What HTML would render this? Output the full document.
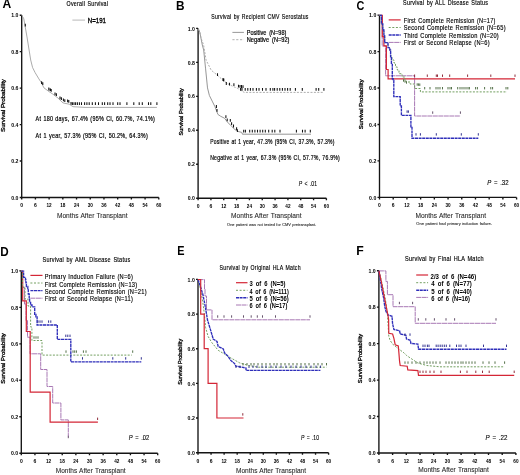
<!DOCTYPE html>
<html><head><meta charset="utf-8"><style>
html,body{margin:0;padding:0;background:#fff;width:520px;height:475px;overflow:hidden}
svg{display:block;filter:blur(0.3px)}
text{font-family:"Liberation Sans",sans-serif}
</style></head><body>
<svg width="520" height="475" viewBox="0 0 520 475" font-family="Liberation Sans, sans-serif">
<rect width="520" height="475" fill="#fff"/>
<path d="M21.7,15.2V197.5H158.8M19.7,197.5H21.7M19.7,161.04H21.7M19.7,124.58H21.7M19.7,88.12H21.7M19.7,51.66H21.7M19.7,15.2H21.7M21.7,197.5V199.5M35.41,197.5V199.5M49.12,197.5V199.5M62.83,197.5V199.5M76.54,197.5V199.5M90.25,197.5V199.5M103.96,197.5V199.5M117.67,197.5V199.5M131.38,197.5V199.5M145.09,197.5V199.5M158.8,197.5V199.5" stroke="#141414" stroke-width="1.35" fill="none"/>
<text x="11.3" y="199.65" font-size="5.9" textLength="7.2" lengthAdjust="spacingAndGlyphs" fill="#000" font-weight="bold" font-style="normal" >0.0</text>
<text x="11.3" y="163.19" font-size="5.9" textLength="7.2" lengthAdjust="spacingAndGlyphs" fill="#000" font-weight="bold" font-style="normal" >0.2</text>
<text x="11.3" y="126.73" font-size="5.9" textLength="7.2" lengthAdjust="spacingAndGlyphs" fill="#000" font-weight="bold" font-style="normal" >0.4</text>
<text x="11.3" y="90.27" font-size="5.9" textLength="7.2" lengthAdjust="spacingAndGlyphs" fill="#000" font-weight="bold" font-style="normal" >0.6</text>
<text x="11.3" y="53.81" font-size="5.9" textLength="7.2" lengthAdjust="spacingAndGlyphs" fill="#000" font-weight="bold" font-style="normal" >0.8</text>
<text x="11.3" y="17.35" font-size="5.9" textLength="7.2" lengthAdjust="spacingAndGlyphs" fill="#000" font-weight="bold" font-style="normal" >1.0</text>
<text x="20.3" y="207.4" font-size="6.0" textLength="2.8" lengthAdjust="spacingAndGlyphs" fill="#000" font-weight="bold" font-style="normal" >0</text>
<text x="34.01" y="207.4" font-size="6.0" textLength="2.8" lengthAdjust="spacingAndGlyphs" fill="#000" font-weight="bold" font-style="normal" >6</text>
<text x="46.52" y="207.4" font-size="6.0" textLength="5.2" lengthAdjust="spacingAndGlyphs" fill="#000" font-weight="bold" font-style="normal" >12</text>
<text x="60.23" y="207.4" font-size="6.0" textLength="5.2" lengthAdjust="spacingAndGlyphs" fill="#000" font-weight="bold" font-style="normal" >18</text>
<text x="73.94" y="207.4" font-size="6.0" textLength="5.2" lengthAdjust="spacingAndGlyphs" fill="#000" font-weight="bold" font-style="normal" >24</text>
<text x="87.65" y="207.4" font-size="6.0" textLength="5.2" lengthAdjust="spacingAndGlyphs" fill="#000" font-weight="bold" font-style="normal" >30</text>
<text x="101.36" y="207.4" font-size="6.0" textLength="5.2" lengthAdjust="spacingAndGlyphs" fill="#000" font-weight="bold" font-style="normal" >36</text>
<text x="115.07" y="207.4" font-size="6.0" textLength="5.2" lengthAdjust="spacingAndGlyphs" fill="#000" font-weight="bold" font-style="normal" >42</text>
<text x="128.78" y="207.4" font-size="6.0" textLength="5.2" lengthAdjust="spacingAndGlyphs" fill="#000" font-weight="bold" font-style="normal" >48</text>
<text x="142.49" y="207.4" font-size="6.0" textLength="5.2" lengthAdjust="spacingAndGlyphs" fill="#000" font-weight="bold" font-style="normal" >54</text>
<text x="156.2" y="207.4" font-size="6.0" textLength="5.2" lengthAdjust="spacingAndGlyphs" fill="#000" font-weight="bold" font-style="normal" >60</text>
<path d="M198.1,28.4V198.2H326.4M196.1,198.2H198.1M196.1,164.24H198.1M196.1,130.28H198.1M196.1,96.32H198.1M196.1,62.36H198.1M196.1,28.4H198.1M198.1,198.2V200.2M210.93,198.2V200.2M223.76,198.2V200.2M236.59,198.2V200.2M249.42,198.2V200.2M262.25,198.2V200.2M275.08,198.2V200.2M287.91,198.2V200.2M300.74,198.2V200.2M313.57,198.2V200.2M326.4,198.2V200.2" stroke="#141414" stroke-width="1.35" fill="none"/>
<text x="187.7" y="200.35" font-size="5.9" textLength="7.2" lengthAdjust="spacingAndGlyphs" fill="#000" font-weight="bold" font-style="normal" >0.0</text>
<text x="187.7" y="166.39" font-size="5.9" textLength="7.2" lengthAdjust="spacingAndGlyphs" fill="#000" font-weight="bold" font-style="normal" >0.2</text>
<text x="187.7" y="132.43" font-size="5.9" textLength="7.2" lengthAdjust="spacingAndGlyphs" fill="#000" font-weight="bold" font-style="normal" >0.4</text>
<text x="187.7" y="98.47" font-size="5.9" textLength="7.2" lengthAdjust="spacingAndGlyphs" fill="#000" font-weight="bold" font-style="normal" >0.6</text>
<text x="187.7" y="64.51" font-size="5.9" textLength="7.2" lengthAdjust="spacingAndGlyphs" fill="#000" font-weight="bold" font-style="normal" >0.8</text>
<text x="187.7" y="30.55" font-size="5.9" textLength="7.2" lengthAdjust="spacingAndGlyphs" fill="#000" font-weight="bold" font-style="normal" >1.0</text>
<text x="196.7" y="208.1" font-size="6.0" textLength="2.8" lengthAdjust="spacingAndGlyphs" fill="#000" font-weight="bold" font-style="normal" >0</text>
<text x="209.53" y="208.1" font-size="6.0" textLength="2.8" lengthAdjust="spacingAndGlyphs" fill="#000" font-weight="bold" font-style="normal" >6</text>
<text x="221.16" y="208.1" font-size="6.0" textLength="5.2" lengthAdjust="spacingAndGlyphs" fill="#000" font-weight="bold" font-style="normal" >12</text>
<text x="233.99" y="208.1" font-size="6.0" textLength="5.2" lengthAdjust="spacingAndGlyphs" fill="#000" font-weight="bold" font-style="normal" >18</text>
<text x="246.82" y="208.1" font-size="6.0" textLength="5.2" lengthAdjust="spacingAndGlyphs" fill="#000" font-weight="bold" font-style="normal" >24</text>
<text x="259.65" y="208.1" font-size="6.0" textLength="5.2" lengthAdjust="spacingAndGlyphs" fill="#000" font-weight="bold" font-style="normal" >30</text>
<text x="272.48" y="208.1" font-size="6.0" textLength="5.2" lengthAdjust="spacingAndGlyphs" fill="#000" font-weight="bold" font-style="normal" >36</text>
<text x="285.31" y="208.1" font-size="6.0" textLength="5.2" lengthAdjust="spacingAndGlyphs" fill="#000" font-weight="bold" font-style="normal" >42</text>
<text x="298.14" y="208.1" font-size="6.0" textLength="5.2" lengthAdjust="spacingAndGlyphs" fill="#000" font-weight="bold" font-style="normal" >48</text>
<text x="310.97" y="208.1" font-size="6.0" textLength="5.2" lengthAdjust="spacingAndGlyphs" fill="#000" font-weight="bold" font-style="normal" >54</text>
<text x="323.8" y="208.1" font-size="6.0" textLength="5.2" lengthAdjust="spacingAndGlyphs" fill="#000" font-weight="bold" font-style="normal" >60</text>
<path d="M379.5,15.1V197.4H516.6M377.5,197.4H379.5M377.5,160.94H379.5M377.5,124.48H379.5M377.5,88.02H379.5M377.5,51.56H379.5M377.5,15.1H379.5M379.5,197.4V199.4M393.21,197.4V199.4M406.92,197.4V199.4M420.63,197.4V199.4M434.34,197.4V199.4M448.05,197.4V199.4M461.76,197.4V199.4M475.47,197.4V199.4M489.18,197.4V199.4M502.89,197.4V199.4M516.6,197.4V199.4" stroke="#141414" stroke-width="1.35" fill="none"/>
<text x="369.1" y="199.55" font-size="5.9" textLength="7.2" lengthAdjust="spacingAndGlyphs" fill="#000" font-weight="bold" font-style="normal" >0.0</text>
<text x="369.1" y="163.09" font-size="5.9" textLength="7.2" lengthAdjust="spacingAndGlyphs" fill="#000" font-weight="bold" font-style="normal" >0.2</text>
<text x="369.1" y="126.63" font-size="5.9" textLength="7.2" lengthAdjust="spacingAndGlyphs" fill="#000" font-weight="bold" font-style="normal" >0.4</text>
<text x="369.1" y="90.17" font-size="5.9" textLength="7.2" lengthAdjust="spacingAndGlyphs" fill="#000" font-weight="bold" font-style="normal" >0.6</text>
<text x="369.1" y="53.71" font-size="5.9" textLength="7.2" lengthAdjust="spacingAndGlyphs" fill="#000" font-weight="bold" font-style="normal" >0.8</text>
<text x="369.1" y="17.25" font-size="5.9" textLength="7.2" lengthAdjust="spacingAndGlyphs" fill="#000" font-weight="bold" font-style="normal" >1.0</text>
<text x="378.1" y="207.3" font-size="6.0" textLength="2.8" lengthAdjust="spacingAndGlyphs" fill="#000" font-weight="bold" font-style="normal" >0</text>
<text x="391.81" y="207.3" font-size="6.0" textLength="2.8" lengthAdjust="spacingAndGlyphs" fill="#000" font-weight="bold" font-style="normal" >6</text>
<text x="404.32" y="207.3" font-size="6.0" textLength="5.2" lengthAdjust="spacingAndGlyphs" fill="#000" font-weight="bold" font-style="normal" >12</text>
<text x="418.03" y="207.3" font-size="6.0" textLength="5.2" lengthAdjust="spacingAndGlyphs" fill="#000" font-weight="bold" font-style="normal" >18</text>
<text x="431.74" y="207.3" font-size="6.0" textLength="5.2" lengthAdjust="spacingAndGlyphs" fill="#000" font-weight="bold" font-style="normal" >24</text>
<text x="445.45" y="207.3" font-size="6.0" textLength="5.2" lengthAdjust="spacingAndGlyphs" fill="#000" font-weight="bold" font-style="normal" >30</text>
<text x="459.16" y="207.3" font-size="6.0" textLength="5.2" lengthAdjust="spacingAndGlyphs" fill="#000" font-weight="bold" font-style="normal" >36</text>
<text x="472.87" y="207.3" font-size="6.0" textLength="5.2" lengthAdjust="spacingAndGlyphs" fill="#000" font-weight="bold" font-style="normal" >42</text>
<text x="486.58" y="207.3" font-size="6.0" textLength="5.2" lengthAdjust="spacingAndGlyphs" fill="#000" font-weight="bold" font-style="normal" >48</text>
<text x="500.29" y="207.3" font-size="6.0" textLength="5.2" lengthAdjust="spacingAndGlyphs" fill="#000" font-weight="bold" font-style="normal" >54</text>
<text x="514" y="207.3" font-size="6.0" textLength="5.2" lengthAdjust="spacingAndGlyphs" fill="#000" font-weight="bold" font-style="normal" >60</text>
<path d="M21.3,270.9V453.2H157.7M19.3,453.2H21.3M19.3,416.74H21.3M19.3,380.28H21.3M19.3,343.82H21.3M19.3,307.36H21.3M19.3,270.9H21.3M21.3,453.2V455.2M34.94,453.2V455.2M48.58,453.2V455.2M62.22,453.2V455.2M75.86,453.2V455.2M89.5,453.2V455.2M103.14,453.2V455.2M116.78,453.2V455.2M130.42,453.2V455.2M144.06,453.2V455.2M157.7,453.2V455.2" stroke="#141414" stroke-width="1.35" fill="none"/>
<text x="10.9" y="455.35" font-size="5.9" textLength="7.2" lengthAdjust="spacingAndGlyphs" fill="#000" font-weight="bold" font-style="normal" >0.0</text>
<text x="10.9" y="418.89" font-size="5.9" textLength="7.2" lengthAdjust="spacingAndGlyphs" fill="#000" font-weight="bold" font-style="normal" >0.2</text>
<text x="10.9" y="382.43" font-size="5.9" textLength="7.2" lengthAdjust="spacingAndGlyphs" fill="#000" font-weight="bold" font-style="normal" >0.4</text>
<text x="10.9" y="345.97" font-size="5.9" textLength="7.2" lengthAdjust="spacingAndGlyphs" fill="#000" font-weight="bold" font-style="normal" >0.6</text>
<text x="10.9" y="309.51" font-size="5.9" textLength="7.2" lengthAdjust="spacingAndGlyphs" fill="#000" font-weight="bold" font-style="normal" >0.8</text>
<text x="10.9" y="273.05" font-size="5.9" textLength="7.2" lengthAdjust="spacingAndGlyphs" fill="#000" font-weight="bold" font-style="normal" >1.0</text>
<text x="19.9" y="463.1" font-size="6.0" textLength="2.8" lengthAdjust="spacingAndGlyphs" fill="#000" font-weight="bold" font-style="normal" >0</text>
<text x="33.54" y="463.1" font-size="6.0" textLength="2.8" lengthAdjust="spacingAndGlyphs" fill="#000" font-weight="bold" font-style="normal" >6</text>
<text x="45.98" y="463.1" font-size="6.0" textLength="5.2" lengthAdjust="spacingAndGlyphs" fill="#000" font-weight="bold" font-style="normal" >12</text>
<text x="59.62" y="463.1" font-size="6.0" textLength="5.2" lengthAdjust="spacingAndGlyphs" fill="#000" font-weight="bold" font-style="normal" >18</text>
<text x="73.26" y="463.1" font-size="6.0" textLength="5.2" lengthAdjust="spacingAndGlyphs" fill="#000" font-weight="bold" font-style="normal" >24</text>
<text x="86.9" y="463.1" font-size="6.0" textLength="5.2" lengthAdjust="spacingAndGlyphs" fill="#000" font-weight="bold" font-style="normal" >30</text>
<text x="100.54" y="463.1" font-size="6.0" textLength="5.2" lengthAdjust="spacingAndGlyphs" fill="#000" font-weight="bold" font-style="normal" >36</text>
<text x="114.18" y="463.1" font-size="6.0" textLength="5.2" lengthAdjust="spacingAndGlyphs" fill="#000" font-weight="bold" font-style="normal" >42</text>
<text x="127.82" y="463.1" font-size="6.0" textLength="5.2" lengthAdjust="spacingAndGlyphs" fill="#000" font-weight="bold" font-style="normal" >48</text>
<text x="141.46" y="463.1" font-size="6.0" textLength="5.2" lengthAdjust="spacingAndGlyphs" fill="#000" font-weight="bold" font-style="normal" >54</text>
<text x="155.1" y="463.1" font-size="6.0" textLength="5.2" lengthAdjust="spacingAndGlyphs" fill="#000" font-weight="bold" font-style="normal" >60</text>
<path d="M198,279.4V452.7H328.6M196,452.7H198M196,418.04H198M196,383.38H198M196,348.72H198M196,314.06H198M196,279.4H198M198,452.7V454.7M211.06,452.7V454.7M224.12,452.7V454.7M237.18,452.7V454.7M250.24,452.7V454.7M263.3,452.7V454.7M276.36,452.7V454.7M289.42,452.7V454.7M302.48,452.7V454.7M315.54,452.7V454.7M328.6,452.7V454.7" stroke="#141414" stroke-width="1.35" fill="none"/>
<text x="187.6" y="454.85" font-size="5.9" textLength="7.2" lengthAdjust="spacingAndGlyphs" fill="#000" font-weight="bold" font-style="normal" >0.0</text>
<text x="187.6" y="420.19" font-size="5.9" textLength="7.2" lengthAdjust="spacingAndGlyphs" fill="#000" font-weight="bold" font-style="normal" >0.2</text>
<text x="187.6" y="385.53" font-size="5.9" textLength="7.2" lengthAdjust="spacingAndGlyphs" fill="#000" font-weight="bold" font-style="normal" >0.4</text>
<text x="187.6" y="350.87" font-size="5.9" textLength="7.2" lengthAdjust="spacingAndGlyphs" fill="#000" font-weight="bold" font-style="normal" >0.6</text>
<text x="187.6" y="316.21" font-size="5.9" textLength="7.2" lengthAdjust="spacingAndGlyphs" fill="#000" font-weight="bold" font-style="normal" >0.8</text>
<text x="187.6" y="281.55" font-size="5.9" textLength="7.2" lengthAdjust="spacingAndGlyphs" fill="#000" font-weight="bold" font-style="normal" >1.0</text>
<text x="196.6" y="462.6" font-size="6.0" textLength="2.8" lengthAdjust="spacingAndGlyphs" fill="#000" font-weight="bold" font-style="normal" >0</text>
<text x="209.66" y="462.6" font-size="6.0" textLength="2.8" lengthAdjust="spacingAndGlyphs" fill="#000" font-weight="bold" font-style="normal" >6</text>
<text x="221.52" y="462.6" font-size="6.0" textLength="5.2" lengthAdjust="spacingAndGlyphs" fill="#000" font-weight="bold" font-style="normal" >12</text>
<text x="234.58" y="462.6" font-size="6.0" textLength="5.2" lengthAdjust="spacingAndGlyphs" fill="#000" font-weight="bold" font-style="normal" >18</text>
<text x="247.64" y="462.6" font-size="6.0" textLength="5.2" lengthAdjust="spacingAndGlyphs" fill="#000" font-weight="bold" font-style="normal" >24</text>
<text x="260.7" y="462.6" font-size="6.0" textLength="5.2" lengthAdjust="spacingAndGlyphs" fill="#000" font-weight="bold" font-style="normal" >30</text>
<text x="273.76" y="462.6" font-size="6.0" textLength="5.2" lengthAdjust="spacingAndGlyphs" fill="#000" font-weight="bold" font-style="normal" >36</text>
<text x="286.82" y="462.6" font-size="6.0" textLength="5.2" lengthAdjust="spacingAndGlyphs" fill="#000" font-weight="bold" font-style="normal" >42</text>
<text x="299.88" y="462.6" font-size="6.0" textLength="5.2" lengthAdjust="spacingAndGlyphs" fill="#000" font-weight="bold" font-style="normal" >48</text>
<text x="312.94" y="462.6" font-size="6.0" textLength="5.2" lengthAdjust="spacingAndGlyphs" fill="#000" font-weight="bold" font-style="normal" >54</text>
<text x="326" y="462.6" font-size="6.0" textLength="5.2" lengthAdjust="spacingAndGlyphs" fill="#000" font-weight="bold" font-style="normal" >60</text>
<path d="M378.9,270.7V453H515.9M376.9,453H378.9M376.9,416.54H378.9M376.9,380.08H378.9M376.9,343.62H378.9M376.9,307.16H378.9M376.9,270.7H378.9M378.9,453V455M392.6,453V455M406.3,453V455M420,453V455M433.7,453V455M447.4,453V455M461.1,453V455M474.8,453V455M488.5,453V455M502.2,453V455M515.9,453V455" stroke="#141414" stroke-width="1.35" fill="none"/>
<text x="368.5" y="455.15" font-size="5.9" textLength="7.2" lengthAdjust="spacingAndGlyphs" fill="#000" font-weight="bold" font-style="normal" >0.0</text>
<text x="368.5" y="418.69" font-size="5.9" textLength="7.2" lengthAdjust="spacingAndGlyphs" fill="#000" font-weight="bold" font-style="normal" >0.2</text>
<text x="368.5" y="382.23" font-size="5.9" textLength="7.2" lengthAdjust="spacingAndGlyphs" fill="#000" font-weight="bold" font-style="normal" >0.4</text>
<text x="368.5" y="345.77" font-size="5.9" textLength="7.2" lengthAdjust="spacingAndGlyphs" fill="#000" font-weight="bold" font-style="normal" >0.6</text>
<text x="368.5" y="309.31" font-size="5.9" textLength="7.2" lengthAdjust="spacingAndGlyphs" fill="#000" font-weight="bold" font-style="normal" >0.8</text>
<text x="368.5" y="272.85" font-size="5.9" textLength="7.2" lengthAdjust="spacingAndGlyphs" fill="#000" font-weight="bold" font-style="normal" >1.0</text>
<text x="377.5" y="462.9" font-size="6.0" textLength="2.8" lengthAdjust="spacingAndGlyphs" fill="#000" font-weight="bold" font-style="normal" >0</text>
<text x="391.2" y="462.9" font-size="6.0" textLength="2.8" lengthAdjust="spacingAndGlyphs" fill="#000" font-weight="bold" font-style="normal" >6</text>
<text x="403.7" y="462.9" font-size="6.0" textLength="5.2" lengthAdjust="spacingAndGlyphs" fill="#000" font-weight="bold" font-style="normal" >12</text>
<text x="417.4" y="462.9" font-size="6.0" textLength="5.2" lengthAdjust="spacingAndGlyphs" fill="#000" font-weight="bold" font-style="normal" >18</text>
<text x="431.1" y="462.9" font-size="6.0" textLength="5.2" lengthAdjust="spacingAndGlyphs" fill="#000" font-weight="bold" font-style="normal" >24</text>
<text x="444.8" y="462.9" font-size="6.0" textLength="5.2" lengthAdjust="spacingAndGlyphs" fill="#000" font-weight="bold" font-style="normal" >30</text>
<text x="458.5" y="462.9" font-size="6.0" textLength="5.2" lengthAdjust="spacingAndGlyphs" fill="#000" font-weight="bold" font-style="normal" >36</text>
<text x="472.2" y="462.9" font-size="6.0" textLength="5.2" lengthAdjust="spacingAndGlyphs" fill="#000" font-weight="bold" font-style="normal" >42</text>
<text x="485.9" y="462.9" font-size="6.0" textLength="5.2" lengthAdjust="spacingAndGlyphs" fill="#000" font-weight="bold" font-style="normal" >48</text>
<text x="499.6" y="462.9" font-size="6.0" textLength="5.2" lengthAdjust="spacingAndGlyphs" fill="#000" font-weight="bold" font-style="normal" >54</text>
<text x="513.3" y="462.9" font-size="6.0" textLength="5.2" lengthAdjust="spacingAndGlyphs" fill="#000" font-weight="bold" font-style="normal" >60</text>
<text transform="translate(2.6,8.3) scale(0.983,1)" font-size="12.3" font-weight="bold" fill="#000">A</text>
<text x="66.6" y="5.9" font-size="6.6" textLength="41.6" lengthAdjust="spacingAndGlyphs" fill="#000" font-weight="normal" font-style="normal" stroke="#000" stroke-width="0.15" word-spacing="0.8" letter-spacing="0.3" >Overall Survival</text>
<path d="M72.4,20.1H85" stroke="#b0b0b0" stroke-width="0.9"/>
<text x="87.8" y="23.3" font-size="6.8" textLength="18.2" lengthAdjust="spacingAndGlyphs" fill="#000" font-weight="normal" font-style="normal" stroke="#000" stroke-width="0.3" >N=191</text>
<text x="35.6" y="120.7" font-size="6.8" textLength="119.4" lengthAdjust="spacingAndGlyphs" fill="#000" font-weight="normal" font-style="normal" stroke="#000" stroke-width="0.2" word-spacing="0.6" letter-spacing="0.3" >At 180 days, 67.4% (95% CI, 60.7%, 74.1%)</text>
<text x="35.6" y="138.4" font-size="6.8" textLength="112.4" lengthAdjust="spacingAndGlyphs" fill="#000" font-weight="normal" font-style="normal" stroke="#000" stroke-width="0.2" word-spacing="0.6" letter-spacing="0.3" >At 1 year, 57.3% (95% CI, 50.2%, 64.3%)</text>
<text transform="translate(5.2,105.5) rotate(-90)" x="-26.5" y="0" font-size="6.0" textLength="53" lengthAdjust="spacingAndGlyphs" fill="#000" stroke="#000" stroke-width="0.3">Survival Probability</text>
<text x="56.9" y="217.8" font-size="7.4" textLength="70.6" lengthAdjust="spacingAndGlyphs" fill="#2a2a2a" font-weight="normal" font-style="normal" stroke="#2a2a2a" stroke-width="0.1" word-spacing="0.5" >Months After Transplant</text>
<path d="M21.9,15.4 L23.8,18.8 L27,37 L30.7,60 L32.6,67.6 L35.1,72.6 L38.9,78.9 L41.4,82.7 L43.9,87.8 L49,91.6 L52.8,94.1 L57.8,97.9 L62.9,102.9 L69.2,104.2 L73,106.7 L85,107.4 L156.9,107.4" stroke="#9c9c9c" stroke-width="0.85" fill="none" stroke-opacity="1"/>
<path d="M81.5,102.2v2.8M84.6,102.2v2.8M86.9,102.2v2.8M89.2,102.2v2.8M92.3,102.2v2.8M95.4,102.2v2.8M98.5,102.2v2.8M102.3,102.2v2.8M104.6,102.2v2.8M107.7,102.2v2.8M110,102.2v2.8M113,102.2v2.8M117.7,102.2v2.8M120,102.2v2.8M126.9,102.2v2.8M133.8,102.2v2.8M139.2,102.2v2.8M142.3,102.2v2.8M148.5,102.2v2.8M150.8,102.2v2.8M156.9,102.2v2.8" stroke="#111" stroke-width="1.05" fill="none"/>
<path d="M25.3,23.8v2.8M41.6,81.2v2.8M42.8,82.2v2.8M48.8,87.6v2.8M50.2,88.2v2.8M51.2,88.9v2.8M55,92.4v2.8M56.4,93.2v2.8M60,96.4v2.8M61.4,97.2v2.8M63.4,98.4v2.8M64.8,99.2v2.8M67.6,99.4v2.8M68.8,100v2.8M71,102v2.8M72.4,102.2v2.8M74,102.3v2.8M75.6,102.3v2.8M77.4,102.3v2.8M79.4,102.3v2.8" stroke="#111" stroke-width="1.05" fill="none"/>
<text transform="translate(176.11,9.5) scale(0.961,1)" font-size="12.3" font-weight="bold" fill="#000">B</text>
<text x="211.3" y="19" font-size="6.6" textLength="97.3" lengthAdjust="spacingAndGlyphs" fill="#000" font-weight="normal" font-style="normal" stroke="#000" stroke-width="0.15" word-spacing="0.8" letter-spacing="0.3" >Survival by Recipient CMV Serostatus</text>
<path d="M232.4,32.4H243.9" stroke="#8c8c8c" stroke-width="0.9"/>
<path d="M232.4,39.7H243.9" stroke="#a8a8a8" stroke-width="0.9" stroke-dasharray="2.2,1.6"/>
<text x="246.8" y="35.1" font-size="6.8" textLength="39.6" lengthAdjust="spacingAndGlyphs" fill="#000" font-weight="normal" font-style="normal" stroke="#000" stroke-width="0.2" word-spacing="1.8" >Positive (N=98)</text>
<text x="246.8" y="42.1" font-size="6.8" textLength="42.7" lengthAdjust="spacingAndGlyphs" fill="#000" font-weight="normal" font-style="normal" stroke="#000" stroke-width="0.2" word-spacing="1.8" >Negative (N=92)</text>
<text x="210.2" y="144.2" font-size="6.8" textLength="124.4" lengthAdjust="spacingAndGlyphs" fill="#000" font-weight="normal" font-style="normal" stroke="#000" stroke-width="0.2" word-spacing="0.6" letter-spacing="0.3" >Positive at 1 year, 47.3% (95% CI, 37.3%, 57.3%)</text>
<text x="210.2" y="160.4" font-size="6.8" textLength="129.8" lengthAdjust="spacingAndGlyphs" fill="#000" font-weight="normal" font-style="normal" stroke="#000" stroke-width="0.2" word-spacing="0.6" letter-spacing="0.3" >Negative at 1 year, 67.3% (95% CI, 57.7%, 76.9%)</text>
<text x="298.8" y="186.1" font-size="6.9" textLength="18.2" lengthAdjust="spacingAndGlyphs" fill="#000" font-weight="normal" font-style="normal" stroke="#000" stroke-width="0.12" word-spacing="1.2" ><tspan font-style="italic">P</tspan> &lt; .01</text>
<text transform="translate(183.4,111.8) rotate(-90)" x="-23.65" y="0" font-size="5.6" textLength="47.3" lengthAdjust="spacingAndGlyphs" fill="#000" stroke="#000" stroke-width="0.3">Survival Probability</text>
<text x="231.1" y="217.8" font-size="7.4" textLength="70.4" lengthAdjust="spacingAndGlyphs" fill="#2a2a2a" font-weight="normal" font-style="normal" stroke="#2a2a2a" stroke-width="0.1" word-spacing="0.5" >Months After Transplant</text>
<text x="227.1" y="225.6" font-size="3.8" textLength="89.2" lengthAdjust="spacingAndGlyphs" fill="#333" font-weight="normal" font-style="normal" stroke="#333" stroke-width="0.1" word-spacing="0.3" >One patient was not tested for CMV pretransplant.</text>
<path d="M198.5,29.2 L199.8,32.3 L202.3,45 L203.7,50 L205.6,68.9 L207.5,87.9 L209.4,95.5 L212.2,101.1 L215,106.8 L217.9,114.4 L220.7,116.3 L224.5,118.2 L227.4,122 L231.1,125.8 L234.9,129.5 L237.8,131.4 L241.8,132.4 L242.4,134.2 L311,134.2" stroke="#8a8a8a" stroke-width="0.9" fill="none" stroke-opacity="1"/>
<path d="M198.5,29.2 L199.8,32.3 L201.2,38.5 L203.6,45 L206.1,60.1 L211.2,70.2 L217.5,75.3 L222.7,80 L227.8,83.8 L232.8,86.3 L237.9,88.5 L244.2,92.4 L323.9,92.4" stroke="#a6a6a6" stroke-width="0.9" fill="none" stroke-dasharray="2,1.4" stroke-opacity="1"/>
<path d="M243.7,129.8v2.8M245.4,129.8v2.8M249.7,129.8v2.8M252.3,129.8v2.8M254.9,129.8v2.8M257.5,129.8v2.8M260.1,129.8v2.8M262.7,129.8v2.8M265.3,129.8v2.8M268.7,129.8v2.8M272.2,129.8v2.8M274.8,129.8v2.8M280,129.8v2.8M296.4,129.8v2.8M302.5,129.8v2.8M305.1,129.8v2.8M310.3,129.8v2.8" stroke="#111" stroke-width="1.05" fill="none"/>
<path d="M216.4,105.1v2.8M217,108.9v2.8M225.9,115.2v2.8M227.2,118.4v2.8M230.3,119v2.8M231.6,122.2v2.8M233.5,124.6v2.8M236.6,127.2v2.8M237.4,129.2v2.8" stroke="#111" stroke-width="1.05" fill="none"/>
<path d="M240.6,88v2.8M242,88v2.8M245.2,88v2.8M247.8,88v2.8M250.4,88v2.8M253,88v2.8M256.4,88v2.8M259,88v2.8M262.5,88v2.8M266,88v2.8M270.3,88v2.8M272.9,88v2.8M274.6,88v2.8M277.2,88v2.8M279.8,88v2.8M282.4,88v2.8M285,88v2.8M287.6,88v2.8M290.2,88v2.8M295.4,88v2.8M302.3,88v2.8M316.1,88v2.8M318.7,88v2.8M323.9,88v2.8" stroke="#111" stroke-width="1.05" fill="none"/>
<path d="M217.5,73.2v2.8M223,78.1v2.8M223.8,78.6v2.8M226.3,82.1v2.8M229.5,82.7v2.8M233.9,83.3v2.8M238.5,84.8v2.8M240,85v2.8M241.5,85.1v2.8M243,85.2v2.8" stroke="#111" stroke-width="1.05" fill="none"/>
<text transform="translate(356.45,9.5) scale(0.884,1)" font-size="12.3" font-weight="bold" fill="#000">C</text>
<text x="403.1" y="5.3" font-size="6.6" textLength="85.1" lengthAdjust="spacingAndGlyphs" fill="#000" font-weight="normal" font-style="normal" stroke="#000" stroke-width="0.15" word-spacing="0.8" letter-spacing="0.3" >Survival by ALL Disease Status</text>
<path d="M388.7,19.9H400.7" stroke="#d42636" stroke-width="1.2" fill="none"/>
<path d="M388.7,27.5H400.7" stroke="#74a062" stroke-width="1.0" fill="none" stroke-dasharray="2,1.6"/>
<path d="M388.7,35H400.7" stroke="#2e2eba" stroke-width="1.35" fill="none" stroke-dasharray="3,0.6"/>
<path d="M388.7,42.4H400.7" stroke="#a878b4" stroke-width="1.0" fill="none" stroke-dasharray="5,0.5"/>
<text x="403.8" y="22.9" font-size="6.8" textLength="91.8" lengthAdjust="spacingAndGlyphs" fill="#000" font-weight="normal" font-style="normal" stroke="#000" stroke-width="0.15" word-spacing="0.6" letter-spacing="0.3" >First Complete Remission (N=17)</text>
<text x="403.8" y="30.4" font-size="6.8" textLength="102" lengthAdjust="spacingAndGlyphs" fill="#000" font-weight="normal" font-style="normal" stroke="#000" stroke-width="0.15" word-spacing="0.6" letter-spacing="0.3" >Second Complete Remission (N=65)</text>
<text x="403.8" y="37.7" font-size="6.8" textLength="95.2" lengthAdjust="spacingAndGlyphs" fill="#000" font-weight="normal" font-style="normal" stroke="#000" stroke-width="0.15" word-spacing="0.6" letter-spacing="0.3" >Third Complete Remission (N=20)</text>
<text x="403.8" y="44.9" font-size="6.8" textLength="86.1" lengthAdjust="spacingAndGlyphs" fill="#000" font-weight="normal" font-style="normal" stroke="#000" stroke-width="0.15" word-spacing="0.6" letter-spacing="0.3" >First or Second Relapse (N=6)</text>
<text transform="translate(363.4,104.3) rotate(-90)" x="-25" y="0" font-size="6.0" textLength="50" lengthAdjust="spacingAndGlyphs" fill="#000" stroke="#000" stroke-width="0.3">Survival Probability</text>
<text x="415.4" y="217.8" font-size="7.4" textLength="70.6" lengthAdjust="spacingAndGlyphs" fill="#2a2a2a" font-weight="normal" font-style="normal" stroke="#2a2a2a" stroke-width="0.1" word-spacing="0.5" >Months After Transplant</text>
<text x="416.3" y="225.4" font-size="3.8" textLength="75.6" lengthAdjust="spacingAndGlyphs" fill="#333" font-weight="normal" font-style="normal" stroke="#333" stroke-width="0.1" word-spacing="0.3" >One patient had primary induction failure.</text>
<text x="487.2" y="184.7" font-size="6.9" textLength="21.4" lengthAdjust="spacingAndGlyphs" fill="#000" font-weight="normal" font-style="normal" stroke="#000" stroke-width="0.12" word-spacing="1.2" ><tspan font-style="italic">P</tspan> = .32</text>
<path d="M379.5,15.3H382.2V45.9H385.6V75.8H414.6V116H460.4" stroke="#a878b4" stroke-width="1.0" fill="none" stroke-dasharray="5,0.5"/>
<path d="M379.5,15.3H382.3V36.6H383.9V45.9H386.4V69.5H388.1V78.8H515" stroke="#d42636" stroke-width="1.2" fill="none"/>
<path d="M379.5,15.3H381.4V24H382.8V30H383.9V35.8H384.7V42.6H388V47.6H389.8V50.1H390.6V56H392V60H394V63H395.5V67H397.3V70H399V73.7H402V77H404.9V80.4H406V82H410V84H414.6V88.5H420.4V91.9H507" stroke="#74a062" stroke-width="1.0" fill="none" stroke-dasharray="2,1.4"/>
<path d="M379.5,15.3H381.4V24H382.8V30H383.9V35.8H384.7V42.6H388V47.6H389.8V50.1H390.6V57.7H391.4V64.4H392.3V78.7H393.1V80.4H393.8V96.6H400.2V106H401.4V115.4H410.9V126.7H412V138.2H478.3" stroke="#2e2eba" stroke-width="1.35" fill="none" stroke-dasharray="3,0.6"/>
<path d="M414.6,74.5v2.4M427.3,74.5v2.4M436.3,74.5v2.4M437.5,74.5v2.4M442.5,74.5v2.4M449.7,74.5v2.4M467.6,74.5v2.4M490.8,74.5v2.4M515,74.5v2.4" stroke="#8a2232" stroke-width="0.95" fill="none"/>
<path d="M424.7,87v2.4M430,87v2.4M436,87v2.4M438,87v2.4M440,87v2.4M442.5,87v2.4M448,87v2.4M450,87v2.4M451.5,87v2.4M457.7,87v2.4M460,87v2.4M462,87v2.4M464,87v2.4M466,87v2.4M468,87v2.4M469.4,87v2.4M475.6,87v2.4M477.4,87v2.4M484.6,87v2.4M490.8,87v2.4M492.6,87v2.4M506,87v2.4M507.8,87v2.4" stroke="#4c6a40" stroke-width="0.95" fill="none"/>
<path d="M403.5,79.3v2.4M405,80.3v2.4M406.5,81.3v2.4M417.2,83.3v2.4M418.6,83.4v2.4M419.8,83.5v2.4" stroke="#4c6a40" stroke-width="0.95" fill="none"/>
<path d="M432.7,111.4v2.4M460.4,111.4v2.4" stroke="#5e4a64" stroke-width="0.95" fill="none"/>
<path d="M407.1,110.4v2.4M408.4,110.4v2.4" stroke="#28288a" stroke-width="0.95" fill="none"/>
<path d="M416,133.2v2.4M420.4,133.2v2.4M436.3,133.2v2.4M461.3,133.2v2.4M478.3,133.2v2.4" stroke="#28288a" stroke-width="0.95" fill="none"/>
<text transform="translate(0.37,255.5) scale(0.950,1)" font-size="12.3" font-weight="bold" fill="#000">D</text>
<text x="42.5" y="261.5" font-size="6.6" textLength="88" lengthAdjust="spacingAndGlyphs" fill="#000" font-weight="normal" font-style="normal" stroke="#000" stroke-width="0.15" word-spacing="0.8" letter-spacing="0.3" >Survival by AML Disease Status</text>
<path d="M30.4,275.4H42.5" stroke="#d42636" stroke-width="1.2" fill="none"/>
<path d="M30.4,283H42.5" stroke="#74a062" stroke-width="1.0" fill="none" stroke-dasharray="2,1.6"/>
<path d="M30.4,290.6H42.5" stroke="#2e2eba" stroke-width="1.35" fill="none" stroke-dasharray="3,0.6"/>
<path d="M30.4,298.2H42.5" stroke="#a878b4" stroke-width="1.0" fill="none" stroke-dasharray="5,0.5"/>
<text x="44.7" y="278.9" font-size="6.8" textLength="88.4" lengthAdjust="spacingAndGlyphs" fill="#000" font-weight="normal" font-style="normal" stroke="#000" stroke-width="0.15" word-spacing="0.6" letter-spacing="0.3" >Primary Induction Failure (N=6)</text>
<text x="44.7" y="286.7" font-size="6.8" textLength="92.6" lengthAdjust="spacingAndGlyphs" fill="#000" font-weight="normal" font-style="normal" stroke="#000" stroke-width="0.15" word-spacing="0.6" letter-spacing="0.3" >First Complete Remission (N=13)</text>
<text x="44.7" y="294" font-size="6.8" textLength="102.1" lengthAdjust="spacingAndGlyphs" fill="#000" font-weight="normal" font-style="normal" stroke="#000" stroke-width="0.15" word-spacing="0.6" letter-spacing="0.3" >Second Complete Remission (N=21)</text>
<text x="44.7" y="301.4" font-size="6.8" textLength="88.4" lengthAdjust="spacingAndGlyphs" fill="#000" font-weight="normal" font-style="normal" stroke="#000" stroke-width="0.15" word-spacing="0.6" letter-spacing="0.3" >First or Second Relapse (N=11)</text>
<text transform="translate(4.9,358.5) rotate(-90)" x="-25.3" y="0" font-size="6.0" textLength="50.6" lengthAdjust="spacingAndGlyphs" fill="#000" stroke="#000" stroke-width="0.3">Survival Probability</text>
<text x="55.8" y="473" font-size="7.4" textLength="69.8" lengthAdjust="spacingAndGlyphs" fill="#2a2a2a" font-weight="normal" font-style="normal" stroke="#2a2a2a" stroke-width="0.1" word-spacing="0.5" >Months After Transplant</text>
<text x="128.7" y="439.5" font-size="6.9" textLength="20.5" lengthAdjust="spacingAndGlyphs" fill="#000" font-weight="normal" font-style="normal" stroke="#000" stroke-width="0.12" word-spacing="1.2" ><tspan font-style="italic">P</tspan> = .02</text>
<path d="M21.3,271.1H22.5V287.5H24.5V304.1H26V320.6H27.5V337.2H30V353.8H40.7V369.5H47V386.5H52.7V403H60.9V419.9H68.3V436.3" stroke="#a878b4" stroke-width="1.0" fill="none" stroke-dasharray="5,0.5"/>
<path d="M21.3,271.1H22.7V300.9H26.3V331.5H30.2V392.2H50.1V422.2H97.9" stroke="#d42636" stroke-width="1.2" fill="none"/>
<path d="M21.3,271.1H22.5V287H25V299H28V306H30.6V327H31.9V340.5H42V355.1H131.8" stroke="#74a062" stroke-width="1.0" fill="none" stroke-dasharray="2,1.4"/>
<path d="M21.3,271.1H23.6V277.3H25.5V280H25.9V282.8H26.4V286.5H27.8V289.3H28.3V294H29.2V298.6H29.6V302.3H30.6V305H32V306.9H34.7V314.4H35.9V316.8H37.1V325H57.3V339.4H70.8V361.8H141.3" stroke="#2e2eba" stroke-width="1.35" fill="none" stroke-dasharray="3,0.6"/>
<path d="M97.6,417.6v2.4" stroke="#8a2232" stroke-width="0.95" fill="none"/>
<path d="M66,350.4v2.4M73,350.4v2.4M74.7,350.4v2.4M76.4,350.4v2.4M83.4,350.4v2.4M86,350.4v2.4M132.7,350.4v2.4" stroke="#4c6a40" stroke-width="0.95" fill="none"/>
<path d="M34,336.3v2.4M36,336.3v2.4M38,336.3v2.4" stroke="#4c6a40" stroke-width="0.95" fill="none"/>
<path d="M82.5,357.2v2.4M112.8,357.2v2.4M125.7,357.2v2.4M141.3,357.2v2.4" stroke="#28288a" stroke-width="0.95" fill="none"/>
<path d="M65.8,334.6v2.4M67.8,334.6v2.4M70,334.6v2.4" stroke="#28288a" stroke-width="0.95" fill="none"/>
<path d="M38,320.4v2.4M40,320.4v2.4M42,320.4v2.4M48.6,320.4v2.4M50.8,320.4v2.4" stroke="#28288a" stroke-width="0.95" fill="none"/>
<path d="M68.3,435.8v2.4" stroke="#5e4a64" stroke-width="0.95" fill="none"/>
<text transform="translate(177.27,254.7) scale(0.886,1)" font-size="12.3" font-weight="bold" fill="#000">E</text>
<text x="219.6" y="269.7" font-size="6.6" textLength="81.2" lengthAdjust="spacingAndGlyphs" fill="#000" font-weight="normal" font-style="normal" stroke="#000" stroke-width="0.15" word-spacing="0.8" letter-spacing="0.3" >Survival by Original HLA Match</text>
<path d="M236,282.7H247.5" stroke="#d42636" stroke-width="1.2" fill="none"/>
<path d="M236,290.3H247.5" stroke="#74a062" stroke-width="1.0" fill="none" stroke-dasharray="2,1.6"/>
<path d="M236,297.7H247.5" stroke="#2e2eba" stroke-width="1.35" fill="none" stroke-dasharray="3,0.6"/>
<path d="M236,305H247.5" stroke="#a878b4" stroke-width="1.0" fill="none" stroke-dasharray="5,0.5"/>
<text x="249.4" y="286.4" font-size="6.8" textLength="36" lengthAdjust="spacingAndGlyphs" fill="#000" font-weight="bold" font-style="normal" word-spacing="1.6" >3 of 6 (N=5)</text>
<text x="249.4" y="293.7" font-size="6.8" textLength="39.4" lengthAdjust="spacingAndGlyphs" fill="#000" font-weight="bold" font-style="normal" word-spacing="1.6" >4 of 6 (N=111)</text>
<text x="249.4" y="301" font-size="6.8" textLength="39.4" lengthAdjust="spacingAndGlyphs" fill="#000" font-weight="bold" font-style="normal" word-spacing="1.6" >5 of 6 (N=56)</text>
<text x="249.4" y="307.8" font-size="6.8" textLength="37.9" lengthAdjust="spacingAndGlyphs" fill="#000" font-weight="bold" font-style="normal" word-spacing="1.6" >6 of 6 (N=17)</text>
<text transform="translate(182.3,361.8) rotate(-90)" x="-23" y="0" font-size="5.6" textLength="46" lengthAdjust="spacingAndGlyphs" fill="#000" stroke="#000" stroke-width="0.3">Survival Probability</text>
<text x="236" y="473" font-size="7.4" textLength="70" lengthAdjust="spacingAndGlyphs" fill="#2a2a2a" font-weight="normal" font-style="normal" stroke="#2a2a2a" stroke-width="0.1" word-spacing="0.5" >Months After Transplant</text>
<text x="301" y="439.7" font-size="6.9" textLength="18" lengthAdjust="spacingAndGlyphs" fill="#000" font-weight="normal" font-style="normal" stroke="#000" stroke-width="0.12" word-spacing="1.2" ><tspan font-style="italic">P</tspan> = .10</text>
<path d="M198,279.6H204.5V289H205V296H206.5V309.9H212V319.8H310" stroke="#a878b4" stroke-width="1.0" fill="none" stroke-dasharray="5,0.5"/>
<path d="M198,279.6 L200,287 L202.5,300 L204.5,315 L205.6,327.6 L208.1,336.4 L211.9,342.7 L218.2,350.3 L224.5,354.1 L230.8,357.9 L239.7,362.9 L248.5,365.5 L258,367.2 L326.5,367.2" stroke="#74a062" stroke-width="1.0" fill="none" stroke-dasharray="2,1.4" stroke-opacity="1"/>
<path d="M198,279.6 L200,285 L203,295 L205,305 L207.5,320 L210.6,330.1 L213.2,339 L217,341.5 L218.2,346.5 L223.3,349 L224.5,352.8 L228.3,356.6 L230.8,360.4 L234.6,363.6 L235.9,366.1 L246,368 L246,370.4 L320.4,370.4" stroke="#2e2eba" stroke-width="1.35" fill="none" stroke-dasharray="3,0.6" stroke-opacity="1"/>
<path d="M198,279.6H200.7V314.1H204.2V348.7H208.1V383.4H216.9V418H243.5" stroke="#d42636" stroke-width="1.2" fill="none"/>
<path d="M242.8,413.2v2.4" stroke="#8a2232" stroke-width="0.95" fill="none"/>
<path d="M217.7,315.3v2.4M224,315.3v2.4M231.6,315.3v2.4M243.5,315.3v2.4M251.2,315.3v2.4M257.3,315.3v2.4M262.5,315.3v2.4M275.5,315.3v2.4M310,315.3v2.4" stroke="#5e4a64" stroke-width="0.95" fill="none"/>
<path d="M243,363v2.4M247,363v2.4M251,363v2.4M254,363v2.4M258,363v2.4M262,363v2.4M266,363v2.4M270,363v2.4M274,363v2.4M277,363v2.4M281,363v2.4M285,363v2.4M289,363v2.4M293,363v2.4M297,363v2.4M301,363v2.4M305,363v2.4M309,363v2.4M314,363v2.4M318,363v2.4M322,363v2.4M326.5,363v2.4" stroke="#4c6a40" stroke-width="0.95" fill="none"/>
<path d="M236,365.6v2.4M240,365.6v2.4M249,365.6v2.4M253,365.6v2.4M257,365.6v2.4M262,365.6v2.4M266,365.6v2.4M271,365.6v2.4M276,365.6v2.4M281,365.6v2.4M286,365.6v2.4M291,365.6v2.4M296,365.6v2.4M301,365.6v2.4M306,365.6v2.4M311,365.6v2.4M316,365.6v2.4M320.4,365.6v2.4" stroke="#28288a" stroke-width="0.95" fill="none"/>
<text transform="translate(356.18,254.5) scale(0.996,1)" font-size="12.3" font-weight="bold" fill="#000">F</text>
<text x="405" y="260.8" font-size="6.6" textLength="78.8" lengthAdjust="spacingAndGlyphs" fill="#000" font-weight="normal" font-style="normal" stroke="#000" stroke-width="0.15" word-spacing="0.8" letter-spacing="0.3" >Survival by Final HLA Match</text>
<path d="M416.2,275H428.1" stroke="#d42636" stroke-width="1.2" fill="none"/>
<path d="M416.2,282.7H428.1" stroke="#74a062" stroke-width="1.0" fill="none" stroke-dasharray="2,1.6"/>
<path d="M416.2,290.2H428.1" stroke="#2e2eba" stroke-width="1.35" fill="none" stroke-dasharray="3,0.6"/>
<path d="M416.2,297.4H428.1" stroke="#a878b4" stroke-width="1.0" fill="none" stroke-dasharray="5,0.5"/>
<text x="430.5" y="279" font-size="6.8" textLength="45.7" lengthAdjust="spacingAndGlyphs" fill="#000" font-weight="bold" font-style="normal" word-spacing="1.6" >2/3 of 6 (N=46)</text>
<text x="431.2" y="286.3" font-size="6.8" textLength="40.7" lengthAdjust="spacingAndGlyphs" fill="#000" font-weight="bold" font-style="normal" word-spacing="1.6" >4 of 6 (N=77)</text>
<text x="431.2" y="293.6" font-size="6.8" textLength="40.7" lengthAdjust="spacingAndGlyphs" fill="#000" font-weight="bold" font-style="normal" word-spacing="1.6" >5 of 6 (N=40)</text>
<text x="431.2" y="300.6" font-size="6.8" textLength="38.8" lengthAdjust="spacingAndGlyphs" fill="#000" font-weight="bold" font-style="normal" word-spacing="1.6" >6 of 6 (N=16)</text>
<text transform="translate(362,358.5) rotate(-90)" x="-24.75" y="0" font-size="6.0" textLength="49.5" lengthAdjust="spacingAndGlyphs" fill="#000" stroke="#000" stroke-width="0.3">Survival Probability</text>
<text x="418.3" y="472.2" font-size="7.4" textLength="70.5" lengthAdjust="spacingAndGlyphs" fill="#2a2a2a" font-weight="normal" font-style="normal" stroke="#2a2a2a" stroke-width="0.1" word-spacing="0.5" >Months After Transplant</text>
<text x="485.5" y="439.7" font-size="6.9" textLength="22" lengthAdjust="spacingAndGlyphs" fill="#000" font-weight="normal" font-style="normal" stroke="#000" stroke-width="0.12" word-spacing="1.2" ><tspan font-style="italic">P</tspan> = .22</text>
<path d="M378.9,270.9H385.9V281.4H387.4V294.7H393V306.7H415.2V323.3H496" stroke="#a878b4" stroke-width="1.0" fill="none" stroke-dasharray="5,0.5"/>
<path d="M378.9,270.9 L381,279 L383.5,290 L385.5,300 L387.5,315 L388.8,336.5 L390.1,340.3 L392.6,344.1 L398.9,349.1 L404,352.9 L406.5,355.4 L410.3,358 L414.1,360.5 L417.9,363 L426.7,365.5 L440,366.8 L504.6,366.8" stroke="#74a062" stroke-width="1.0" fill="none" stroke-dasharray="2,1.4" stroke-opacity="1"/>
<path d="M378.9,270.9 L380,278 L381,284 L381.7,289 L383.6,297.8 L384.8,306.7 L386.1,311.7 L388.2,315 L392,316.3 L392.6,323.8 L393.9,329.5 L399.6,330.8 L400.2,334 L405.9,335.2 L406.5,339 L410.3,340.3 L410.9,343.4 L417.9,344.1 L418.5,349.2 L506.5,349.2" stroke="#2e2eba" stroke-width="1.35" fill="none" stroke-dasharray="3,0.6" stroke-opacity="1"/>
<path d="M378.9,270.9 L381,280.2 L383,290.3 L384.2,296.6 L385.5,302.9 L386.7,309.2 L388,315.5 L388.6,319.3 L388.8,333.3 L392.6,334 L393.9,338.4 L395.2,344.7 L398.3,346 L398.9,352.9 L399.6,361.7 L400.2,365.5 L407.2,366.2 L407.8,369.9 L417.9,370.6 L418.5,375.3 L514.2,375.3" stroke="#d42636" stroke-width="1.2" fill="none" stroke-opacity="1"/>
<path d="M399.4,301.8v2.4M412.6,301.8v2.4" stroke="#5e4a64" stroke-width="0.95" fill="none"/>
<path d="M418.3,318.2v2.4M425.8,318.2v2.4M434.4,318.2v2.4M446,318.2v2.4M454.6,318.2v2.4M496,318.2v2.4" stroke="#5e4a64" stroke-width="0.95" fill="none"/>
<path d="M405,333.4v2.4M410,333.4v2.4" stroke="#28288a" stroke-width="0.95" fill="none"/>
<path d="M423,344.6v2.4M425,344.6v2.4M427.4,344.6v2.4M429,344.6v2.4M436.2,344.6v2.4M438.1,344.6v2.4M440.2,344.6v2.4M442.2,344.6v2.4M444.3,344.6v2.4M446.3,344.6v2.4M449.8,344.6v2.4M456.5,344.6v2.4M459,344.6v2.4M461,344.6v2.4M466,344.6v2.4M483.5,344.6v2.4M506.5,344.6v2.4" stroke="#28288a" stroke-width="0.95" fill="none"/>
<path d="M420,370.6v2.4M423,370.6v2.4M426,370.6v2.4M430,370.6v2.4M434,370.6v2.4M441,370.6v2.4M460.4,370.6v2.4M467,370.6v2.4M475.8,370.6v2.4M482.5,370.6v2.4M489.2,370.6v2.4M514.2,370.6v2.4" stroke="#8a2232" stroke-width="0.95" fill="none"/>
<path d="M405,361.4v2.4M408,361.4v2.4M412,361.4v2.4M416,361.4v2.4M420,361.4v2.4M424,361.4v2.4M427,361.4v2.4M430,361.4v2.4M433,361.4v2.4M436,361.4v2.4M440,361.4v2.4M446,361.4v2.4M449,361.4v2.4M452,361.4v2.4M455,361.4v2.4M458,361.4v2.4M461,361.4v2.4M463,361.4v2.4M466,361.4v2.4M469,361.4v2.4M472,361.4v2.4M475,361.4v2.4M483,361.4v2.4M489,361.4v2.4M495,361.4v2.4M504.6,361.4v2.4" stroke="#4c6a40" stroke-width="0.95" fill="none"/>
</svg>
</body></html>
